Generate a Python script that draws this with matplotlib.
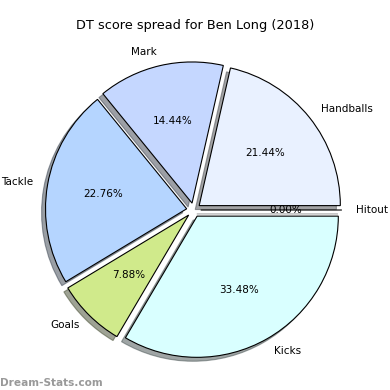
import matplotlib.pyplot as plt

# DT score breakdown
labels = ['Handballs', 'Mark', 'Tackle', 'Goals', 'Kicks', 'Hitout']
values = [21.44, 14.44, 22.76, 7.88, 33.48, 0.0]
colors = ['#e9f1ff', '#c5d7ff', '#b5d5ff', '#d0ea8b', '#d9ffff', '#ffffff']
explode = [0.05] * len(values)

fig = plt.figure(figsize=(3.9, 3.9), dpi=100)
ax = fig.add_axes([0.044, 0.009, 0.905, 0.905])

ax.pie(values, labels=labels, colors=colors, explode=explode,
       autopct='%1.2f%%', shadow=True, startangle=0,
       wedgeprops={'edgecolor': 'black', 'linewidth': 0.8},
       textprops={'fontsize': 7.5})
ax.set_aspect('equal')

fig.text(0.5, 0.935, 'DT score spread for Ben Long (2018)', ha='center',
         va='center', fontsize=9.3)
fig.text(0.0, 0.01, 'Dream-Stats.com', color='#999999', fontsize=7.6,
         fontweight='bold', ha='left')

fig.savefig('out.png', dpi=100)
